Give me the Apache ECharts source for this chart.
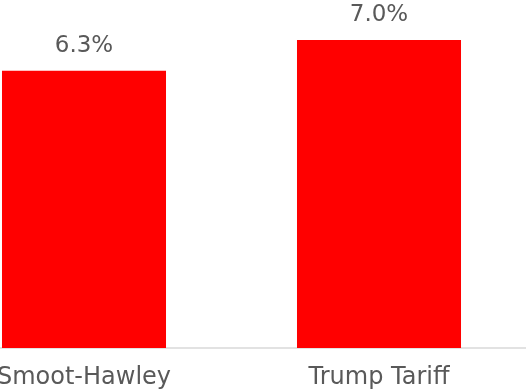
<!DOCTYPE html>
<html><head><meta charset="utf-8">
<script src="https://cdn.jsdelivr.net/npm/echarts@6/dist/echarts.min.js"></script>
<style>html,body{margin:0;padding:0;background:#fff}#c{width:526px;height:391px}</style>
</head><body><div id="c"></div>
<script>
const categories = ["Smoot-Hawley", "Trump Tariff"];
const tariffRates = [6.3, 7.0];
const FONT = "DejaVu Sans";
const chart = echarts.init(document.getElementById('c'), null, {renderer: 'canvas'});
chart.setOption({
  animation: false,
  grid: {left: -63.5, width: 590, top: 18, height: 330, containLabel: false, outerBoundsMode: 'none'},
  xAxis: {
    type: 'category', data: categories,
    axisLine: {show: true, lineStyle: {color: '#d9d9d9', width: 1.5}},
    axisTick: {show: false},
    axisLabel: {color: '#595959', fontSize: 24, fontFamily: FONT, margin: 18}
  },
  yAxis: {type: 'value', min: 0, max: 7.5, show: false, splitLine: {show: false}},
  series: [{
    type: 'bar', data: tariffRates, barCategoryGap: '44.4%',
    itemStyle: {color: '#ff0000'},
    label: {show: true, position: 'top', distance: 13, color: '#595959', fontSize: 23, fontFamily: FONT,
      formatter: p => p.value.toFixed(1) + '%'}
  }]
});
</script></body></html>
